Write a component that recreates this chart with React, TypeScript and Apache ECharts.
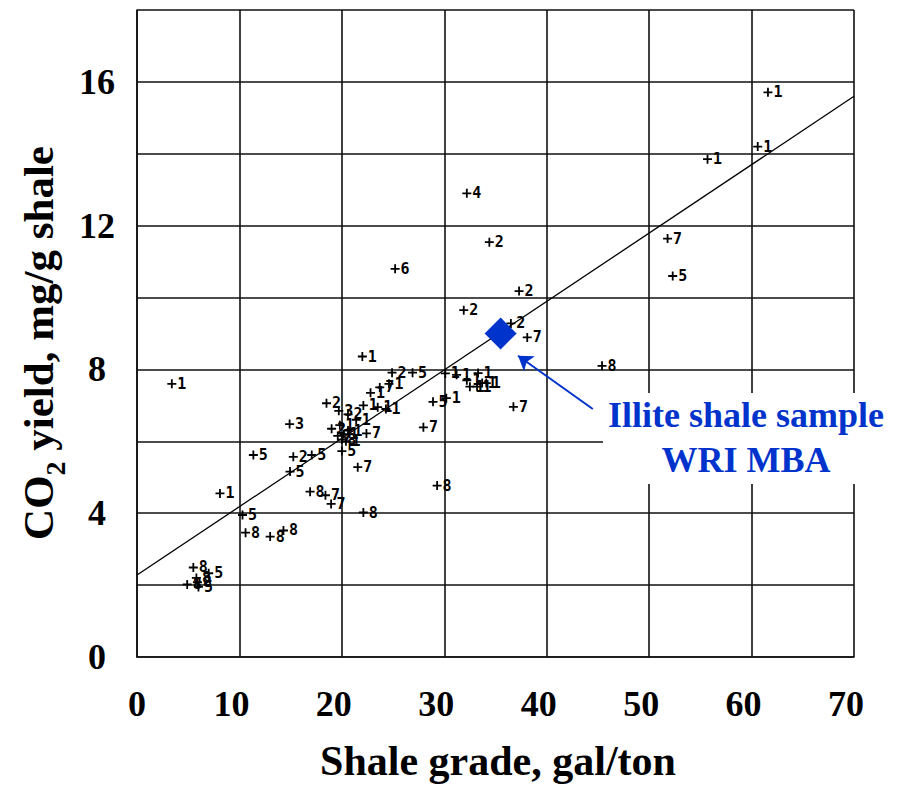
import React, { useEffect, useRef } from 'react';
import * as echarts from 'echarts';

// Shale grade (gal/ton), CO2 yield (mg/g shale) and sample number of each plotted point
const shaleGrade = [
  3.4, 8.1, 22.0, 61.6, 60.6, 55.7, 32.2, 34.4, 25.2, 37.3,
  31.9, 36.5, 38.1, 51.8, 52.3, 45.4, 36.75, 24.9, 26.9, 30.1,
  31.2, 32.2, 32.5, 33.2, 33.7, 34.1, 33.3, 28.9, 30.2, 27.96,
  14.9, 18.5, 19.7, 20.6, 21.4, 22.8, 23.7, 24.6, 22.1, 23.5,
  24.3, 19.0, 19.8, 20.2, 20.0, 20.6, 19.6, 20.4, 22.4, 20.0,
  21.55, 11.36, 15.26, 17.06, 14.94, 16.9, 18.4, 18.95, 22.1, 29.3,
  10.3, 10.6, 13.0, 14.3, 5.5, 7.0, 4.9, 5.8, 6.0, 5.9,
];
const co2Yield = [
  7.6, 4.55, 8.36, 15.71, 14.2, 13.85, 12.9, 11.54, 10.8, 10.18,
  9.65, 9.28, 8.89, 11.64, 10.6, 8.1, 6.96, 7.91, 7.91, 7.89,
  7.85, 7.7, 7.52, 7.52, 7.62, 7.62, 7.9, 7.1, 7.2, 6.39,
  6.48, 7.06, 6.85, 6.75, 6.6, 7.35, 7.5, 7.6, 7.0, 6.95,
  6.9, 6.35, 6.45, 6.2, 6.05, 6.3, 6.15, 6.0, 6.22, 5.73,
  5.28, 5.62, 5.57, 5.62, 5.16, 4.6, 4.5, 4.26, 4.02, 4.77,
  3.95, 3.46, 3.35, 3.52, 2.49, 2.33, 2.02, 2.2, 1.95, 2.08,
];
const sampleNo = [
  '1', '1', '1', '1', '1', '1', '4', '2', '6', '2',
  '2', '2', '7', '7', '5', '8', '7', '2', '5', '1',
  '1', '1', '1', '1', '1', '1', '1', '5', '1', '7',
  '3', '2', '3', '2', '1', '1', '7', '1', '1', '1',
  '1', '2', '1', '1', '8', '1', '7', '1', '7', '5',
  '7', '5', '2', '5', '5', '8', '7', '7', '8', '8',
  '5', '8', '8', '8', '8', '5', '8', '8', '5', '8',
];

// Regression line end points
const fitGrade = [0, 70];
const fitYield = [2.28, 15.6];

// Illite shale sample WRI MBA
const sampleGrade = [35.5];
const sampleYield = [9.0];
const arrowFrom = [44.5, 6.9];
const arrowTo = [37.2, 8.38];

const xTickStep = 10;
const yTickStep = 2;
const yLabelStep = 4;

const SERIF = '"Liberation Serif", "DejaVu Serif", serif';
const BLUE = '#0033cc';
const INK = '#000000';

const PLUS = 'path://M4,0H6V4H10V6H6V10H4V6H0V4H4Z';

export default function App() {
  const ref = useRef<HTMLDivElement>(null);

  useEffect(() => {
    document.body.style.margin = '0';
    if (!ref.current) return;
    const chart = echarts.init(ref.current, undefined, { renderer: 'svg' });

    const tickFont = { fontFamily: SERIF, fontWeight: 'bold' as const, fontSize: 36, color: '#000' };

    chart.setOption({
      animation: false,
      backgroundColor: '#ffffff',
      grid: { left: 137, right: 45, top: 10, bottom: 133, containLabel: false },
      xAxis: {
        type: 'value',
        min: 0,
        max: 70,
        interval: xTickStep,
        axisLine: { show: true, lineStyle: { color: '#111', width: 1.6 } },
        axisTick: { show: false },
        splitLine: { show: true, lineStyle: { color: '#111', width: 1.6 } },
        axisLabel: {
          margin: 29,
          formatter: (v: number) => (v === 0 ? `{z|${v}}` : `{n|${v}}`),
          rich: {
            z: { ...tickFont },
            n: { ...tickFont, padding: [0, 16, 0, 0] },
          },
          ...tickFont,
        },
      },
      yAxis: {
        type: 'value',
        min: 0,
        max: 18,
        interval: yTickStep,
        axisLine: { show: true, lineStyle: { color: '#111', width: 1.6 } },
        axisTick: { show: false },
        splitLine: { show: true, lineStyle: { color: '#111', width: 1.6 } },
        axisLabel: {
          margin: 40,
          align: 'center',
          formatter: (v: number) => (v % yLabelStep === 0 ? String(v) : ''),
          ...tickFont,
        },
      },
      series: [
        {
          type: 'line',
          data: fitGrade.map((x, i) => [x, fitYield[i]]),
          showSymbol: false,
          symbol: 'none',
          lineStyle: { color: INK, width: 1.3 },
          silent: true,
          z: 2,
        },
        {
          type: 'scatter',
          data: shaleGrade.map((x, i) => [x, co2Yield[i], sampleNo[i]]),
          symbol: PLUS,
          symbolSize: 9,
          itemStyle: { color: INK, opacity: 1 },
          silent: true,
          label: {
            show: true,
            position: 'right',
            distance: 1,
            formatter: (p: any) => p.value[2],
            fontFamily: '"DejaVu Sans Mono", monospace',
            fontWeight: 'bold',
            fontSize: 15,
            color: INK,
          },
          labelLayout: { hideOverlap: false },
          z: 3,
        },
        {
          type: 'scatter',
          data: sampleGrade.map((x, i) => [x, sampleYield[i]]),
          symbol: 'diamond',
          symbolSize: [32, 32],
          itemStyle: { color: BLUE, opacity: 1 },
          silent: true,
          z: 5,
          markLine: {
            silent: true,
            symbol: ['none', 'arrow'],
            symbolSize: 14,
            label: { show: false },
            lineStyle: { color: BLUE, width: 2, type: 'solid', opacity: 1 },
            data: [[{ coord: arrowFrom }, { coord: arrowTo }]],
          },
        },
      ],
      graphic: [
        {
          type: 'rect',
          shape: { x: 603, y: 393, width: 292, height: 91 },
          style: { fill: '#ffffff' },
          z: 50,
          silent: true,
        },
        {
          type: 'text',
          x: 746,
          y: 415,
          z: 51,
          style: {
            text: 'Illite shale sample',
            fill: BLUE,
            font: `bold 36px ${SERIF}`,
            align: 'center',
            verticalAlign: 'middle',
          },
        },
        {
          type: 'text',
          x: 746,
          y: 460,
          z: 51,
          style: {
            text: 'WRI MBA',
            fill: BLUE,
            font: `bold 36px ${SERIF}`,
            align: 'center',
            verticalAlign: 'middle',
          },
        },
        {
          type: 'text',
          x: 498,
          y: 761,
          z: 51,
          style: {
            text: 'Shale grade, gal/ton',
            fill: '#000',
            font: `bold 42px ${SERIF}`,
            align: 'center',
            verticalAlign: 'middle',
          },
        },
        {
          type: 'text',
          x: 38,
          y: 343,
          rotation: Math.PI / 2,
          z: 51,
          style: {
            text: '{n|CO}{s|2}{n| yield, mg/g shale}',
            align: 'center',
            verticalAlign: 'middle',
            rich: {
              n: { fontFamily: SERIF, fontWeight: 'bold', fontSize: 43, lineHeight: 43, fill: '#000' },
              s: { fontFamily: SERIF, fontWeight: 'bold', fontSize: 28, lineHeight: 62, verticalAlign: 'bottom', fill: '#000' },
            },
          },
        },
      ],
    });

    return () => chart.dispose();
  }, []);

  return <div ref={ref} style={{ width: 899, height: 790 }} />;
}
